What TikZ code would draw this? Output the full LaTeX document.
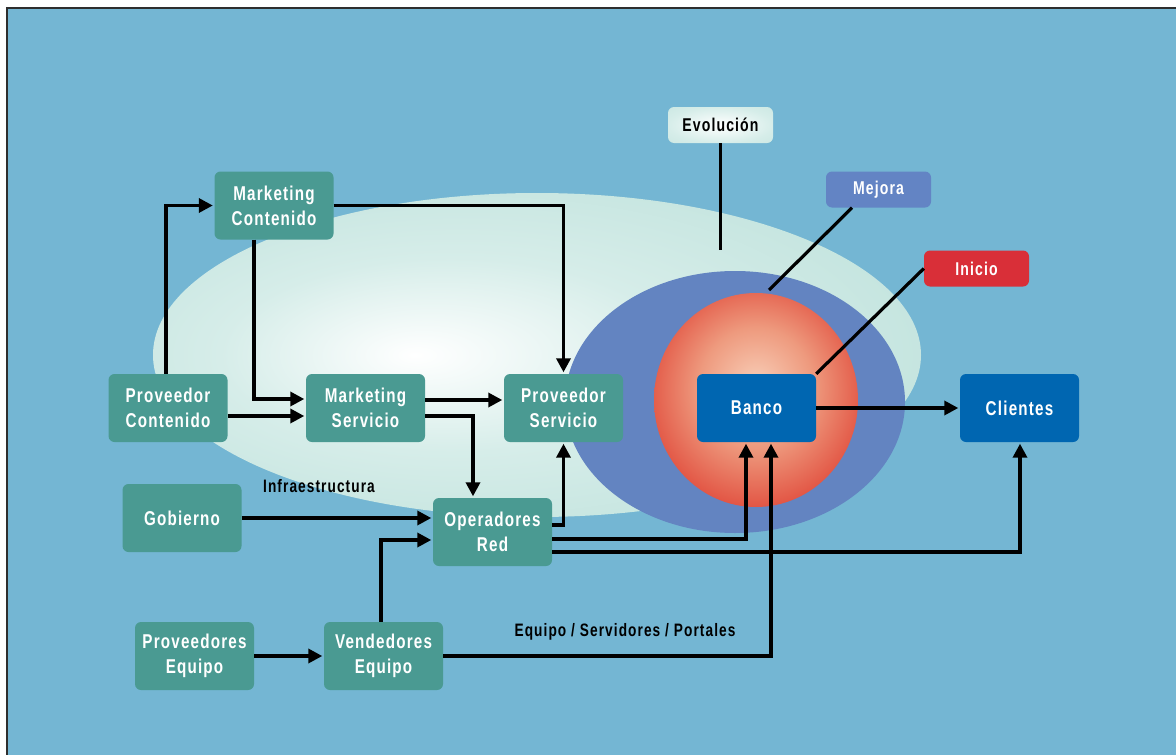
\documentclass[tikz,border=0pt]{standalone}
\usepackage{fontspec}
\setmainfont{Liberation Sans}[FakeStretch=0.76,LetterSpace=6]
\usetikzlibrary{arrows.meta,shapes.geometric}

\definecolor{bgblue}{HTML}{74B6D3}
\definecolor{framec}{HTML}{2E2E2E}
\definecolor{tealbox}{HTML}{4A9A92}
\definecolor{bluebox}{HTML}{0066B1}
\definecolor{ringblue}{HTML}{6384C1}
\definecolor{mejorac}{HTML}{6384C4}
\definecolor{inicioc}{HTML}{D92F38}
\definecolor{mistc}{HTML}{BFE2DC}
\definecolor{mistmid}{HTML}{D6EDE9}
\definecolor{peach}{HTML}{F8CDB6}
\definecolor{salmon}{HTML}{EE9A7E}
\definecolor{coral}{HTML}{E35A48}
\definecolor{redc}{HTML}{D6202A}

% soft glow of the large oval
\pgfdeclareradialshading{mistglow}{\pgfpoint{-8bp}{0bp}}{%
  color(0bp)=(white); color(15bp)=(mistmid); color(34bp)=(mistc); color(50bp)=(mistc)}
% warm core of the inner disc
\pgfdeclareradialshading{coreglow}{\pgfpoint{0bp}{4bp}}{%
  color(0bp)=(peach); color(14bp)=(salmon); color(26bp)=(coral); color(36bp)=(redc); color(50bp)=(redc)}
% pale label
\pgfdeclareradialshading{evoglow}{\pgfpoint{0bp}{0bp}}{%
  color(0bp)=(white); color(25bp)=(mistmid); color(50bp)=(mistc)}

\tikzset{
  box/.style={rounded corners=6pt, minimum width=119pt, minimum height=68pt,
    align=center, inner sep=0pt, text=white,
    font=\bfseries\fontsize{20}{25}\selectfont},
  tealnode/.style={box, fill=tealbox},
  bluenode/.style={box, fill=bluebox},
  tag/.style={rounded corners=6pt, minimum width=105pt, minimum height=36pt,
    inner sep=0pt, font=\bfseries\fontsize{18.5}{20}\selectfont},
  arr/.style={line width=3.4pt, -{Triangle[length=14pt,width=14pt]}, shorten >=1.5pt},
  lead/.style={line width=3.2pt},
  caption/.style={font=\bfseries\fontsize{18}{20}\selectfont, text=black}
}

\begin{document}
\begin{tikzpicture}[x=1pt,y=-1pt]
\useasboundingbox (0,0) rectangle (1176,755);
\fill[white] (0,0) rectangle (1176,755);
\fill[bgblue] (7,8) rectangle (1180,760);
\draw[framec, line width=1.6pt] (1180,8) -- (7,8) -- (7,760);

% background layers
\shade[shading=mistglow] (537,355) ellipse [x radius=384, y radius=162];
\fill[ringblue] (735,402) ellipse [x radius=170, y radius=131];
\shade[shading=coreglow] (756,400) ellipse [x radius=102, y radius=107];

% boxes
\node[tealnode] (mc) at (274,205.5) {Marketing\\Contenido};
\node[tealnode] (pc) at (168,408) {Proveedor\\Contenido};
\node[tealnode] (ms) at (365.5,408) {Marketing\\Servicio};
\node[tealnode] (ps) at (563.5,408) {Proveedor\\Servicio};
\node[tealnode] (or) at (492.5,532) {Operadores\\Red};
\node[tealnode] (gob) at (182,518) {Gobierno};
\node[tealnode] (pe) at (194.5,656) {Proveedores\\Equipo};
\node[tealnode] (ve) at (383.5,656) {Vendedores\\Equipo};
\node[bluenode] (banco) at (756.5,408) {Banco};
\node[bluenode] (cl) at (1019.5,408) {Clientes};

% tags
\node[tag, shading=evoglow, text=black] (evo) at (720.5,125) {Evolución};
\node[tag, fill=mejorac, text=white] (mej) at (878.5,189.5) {Mejora};
\node[tag, fill=inicioc, text=white] (ini) at (976.5,268.5) {Inicio};

\coordinate (evoend) at (720.5,250);
\coordinate (mejend) at (769,290);
\draw[lead] (evo.south) -- (evoend);
\draw[lead] ([xshift=-26.5pt]mej.south) -- (mejend);
\draw[lead] (ini.west) -- (banco.north east);

% captions
\node[caption] (infra) at (319,486) {Infraestructura};
\node[caption] (esp) at (625,632) {Equipo / Servidores / Portales};

% flows
\draw[arr] ([xshift=-2pt]pc.north) |- (mc.west);
\draw[arr] (mc.east) -| (ps.north);
\draw[arr] ([xshift=-20pt]mc.south) |- ([yshift=9pt]ms.west);
\draw[arr] ([yshift=-8pt]pc.east) -- ([yshift=-8pt]ms.west);
\draw[arr] ([yshift=8pt]ms.east) -- ([yshift=8pt]ps.west);
\draw[arr] ([yshift=-8pt]ms.east) -| ([xshift=-19.5pt]or.north);
\draw[arr] ([yshift=7pt]or.east) -| (ps.south);
\draw[arr] (gob.east) -- (gob.east -| or.west);
\draw[arr] ([xshift=-2.5pt]ve.north) |- ([yshift=-8pt]or.west);
\draw[arr] (pe.east) -- (ve.west);
\draw[arr] (ve.east) -| ([xshift=14.5pt]banco.south);
\draw[arr] ([yshift=-7pt]or.east) -| ([xshift=-10.5pt]banco.south);
\draw[arr] ([yshift=-20pt]or.east) -| ([xshift=0.5pt]cl.south);
\draw[arr] (banco.east) -- (cl.west);
\end{tikzpicture}
\end{document}
